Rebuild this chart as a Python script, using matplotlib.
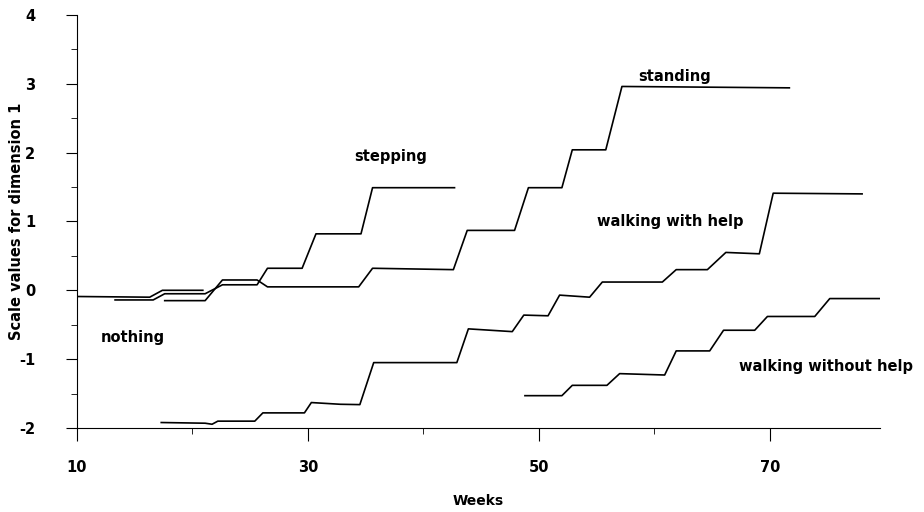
import numpy as np
import matplotlib
matplotlib.use("Agg")
import matplotlib.pyplot as plt
from matplotlib.ticker import MultipleLocator, FixedLocator

plt.rcParams["axes.unicode_minus"] = False

# weeks / scale values
nothing_w = [10.0, 16.3, 17.4, 20.9]
nothing_v = [-0.09, -0.10, 0.0, 0.0]

stepping_w = [13.3, 16.6, 17.6, 21.1, 22.6, 25.6, 26.5, 29.5, 30.7, 34.6, 35.6, 42.7]
stepping_v = [-0.14, -0.14, -0.05, -0.05, 0.08, 0.08, 0.32, 0.32, 0.82, 0.82, 1.49, 1.49]

standing_w = [17.6, 21.1, 22.6, 25.6, 26.5, 34.4, 35.6, 42.6, 43.8, 47.9, 49.1,
              52.0, 52.9, 55.8, 57.2, 71.7]
standing_v = [-0.15, -0.15, 0.15, 0.15, 0.05, 0.05, 0.32, 0.30, 0.87, 0.87, 1.49,
              1.49, 2.04, 2.04, 2.96, 2.94]

with_help_w = [17.3, 21.1, 21.7, 22.2, 25.4, 26.1, 29.7, 30.3, 32.8, 34.5, 35.7,
               42.9, 43.9, 47.7, 48.7, 50.8, 51.8, 54.4, 55.5, 60.7, 61.9, 64.6,
               66.2, 69.1, 70.3, 78.0]
with_help_v = [-1.92, -1.93, -1.945, -1.90, -1.90, -1.78, -1.78, -1.63, -1.655, -1.66, -1.05,
               -1.05, -0.56, -0.60, -0.36, -0.37, -0.07, -0.10, 0.12, 0.12, 0.30, 0.30,
               0.55, 0.53, 1.41, 1.40]

without_help_w = [48.8, 52.0, 52.9, 55.9, 57.0, 60.9, 61.9, 64.8, 66.0, 68.7, 69.8,
                  73.9, 75.2, 79.5]
without_help_v = [-1.53, -1.53, -1.38, -1.38, -1.21, -1.23, -0.88, -0.88, -0.58, -0.58, -0.38,
                  -0.38, -0.12, -0.12]

labels = ["nothing", "stepping", "standing", "walking with help", "walking without help"]
label_pos = [(14.8, -0.68), (37.2, 1.94), (61.8, 3.1), (61.4, 1.0), (74.9, -1.11)]

fig = plt.figure(figsize=(9.24, 5.12), dpi=100)
ax = fig.add_axes([0.0833, 0.164, 0.8687, 0.807])

for w, v in [(nothing_w, nothing_v), (stepping_w, stepping_v), (standing_w, standing_v),
             (with_help_w, with_help_v), (without_help_w, without_help_v)]:
    ax.plot(w, v, color="black", lw=1.2)

for txt, (x, y) in zip(labels, label_pos):
    ax.text(x, y, txt, ha="center", va="center", fontsize=10.5, fontweight="bold")

ax.set_xlim(10, 79.52)
ax.set_ylim(-2, 4)
ax.spines["top"].set_visible(False)
ax.spines["right"].set_visible(False)
ax.xaxis.set_major_locator(FixedLocator([10, 30, 50, 70]))
ax.xaxis.set_minor_locator(FixedLocator([20, 40, 60]))
ax.yaxis.set_major_locator(MultipleLocator(1))
ax.yaxis.set_minor_locator(MultipleLocator(0.5))
ax.tick_params(axis="x", which="major", length=9, pad=14, labelsize=10.5)
ax.tick_params(axis="x", which="minor", length=4)
ax.tick_params(axis="y", which="major", length=8, pad=22, labelsize=10.5)
ax.tick_params(axis="y", which="minor", length=4)
for t in ax.get_xticklabels() + ax.get_yticklabels():
    t.set_fontweight("bold")

ax.set_xlabel("Weeks", fontsize=10, fontweight="bold", labelpad=14)
ax.set_ylabel("Scale values for dimension 1", fontsize=10.5, fontweight="bold")
ax.yaxis.set_label_coords(-0.066, 0.5)

fig.savefig("out.png", dpi=100)
